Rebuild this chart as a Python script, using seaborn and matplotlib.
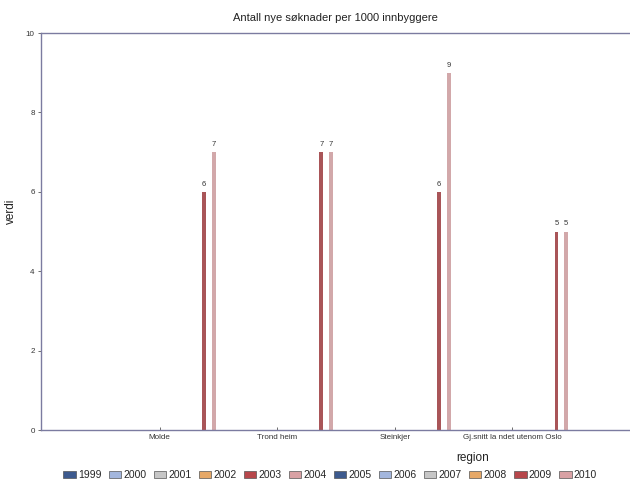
import matplotlib
matplotlib.use("Agg")
import matplotlib.pyplot as plt
import seaborn as sns
import pandas as pd
import numpy as np
from matplotlib.patches import Patch

regions = ["Molde", "Trond heim", "Steinkjer", "Gj.snitt la ndet utenom Oslo"]
years = ["1999", "2000", "2001", "2002", "2003", "2004",
         "2005", "2006", "2007", "2008", "2009", "2010"]
v2009 = [6, 7, 6, 5]
v2010 = [7, 7, 9, 5]
colors = ["#3d5a8e", "#a3b6dd", "#c6c6c6", "#e6a867", "#b7474b", "#d9a1a4",
          "#3d5a8e", "#a3b6dd", "#c6c6c6", "#e6a867", "#b7474b", "#d9a1a4"]

rows = []
for i, r in enumerate(regions):
    for y in years:
        if y == "2009":
            val = v2009[i]
        elif y == "2010":
            val = v2010[i]
        else:
            val = 0
        rows.append({"region": r, "year": y, "verdi": val})
df = pd.DataFrame(rows)

sns.set_style("white")
plt.rcParams['font.family'] = ['Liberation Sans', 'DejaVu Sans']

fig = plt.figure(figsize=(6.3, 4.86), dpi=100)
ax = fig.add_axes([0.065, 0.115, 0.935, 0.817])

sns.barplot(data=df, x="region", y="verdi", hue="year", order=regions,
            hue_order=years, palette=colors, width=1.0, gap=0.6,
            legend=False, ax=ax, errorbar=None, linewidth=0)

for cont, col in zip(ax.containers, colors):
    vals = [p.get_height() for p in cont]
    for p in cont:
        p.set_edgecolor(col)
    if any(v > 0 for v in vals):
        ax.bar_label(cont, labels=[f"{v:.0f}" if v > 0 else "" for v in vals],
                     fontsize=5.5, padding=3, color="#333333")

ax.set_xlim(-1.01, 4.0)
ax.set_ylim(0, 10)
ax.set_yticks([0, 2, 4, 6, 8, 10])
spine_col = "#7b7ba0"
for s in ["left", "top", "bottom"]:
    ax.spines[s].set_color(spine_col)
    ax.spines[s].set_linewidth(1.0)
ax.spines["right"].set_visible(False)
ax.tick_params(axis="y", labelsize=5.8, length=2.5, width=0.6, color="#555555",
               left=True, direction="out", pad=2, labelcolor="#333333")
ax.tick_params(axis="x", labelsize=5.8, length=2.5, width=0.6, color="#555555",
               bottom=True, direction="in", pad=3, labelcolor="#333333")

ax.set_title("Antall nye søknader per 1000 innbyggere", fontsize=8, pad=9, color="#222222")
ax.set_xlabel("region", fontsize=8.5, color="#222222")
ax.xaxis.set_label_coords(0.732, -0.055)
ax.set_ylabel("verdi", fontsize=8.5, color="#222222")
ax.yaxis.set_label_coords(-0.04, 0.55)

handles = [Patch(facecolor=c, edgecolor="#555555", linewidth=0.5, label=y)
           for c, y in zip(colors, years)]
fig.legend(handles=handles, loc="center", bbox_to_anchor=(0.524, 0.022), ncol=12,
           fontsize=7.5, frameon=False, handlelength=1.2, handleheight=0.7,
           handletextpad=0.2, columnspacing=0.7)

fig.savefig("out.png", dpi=100)
